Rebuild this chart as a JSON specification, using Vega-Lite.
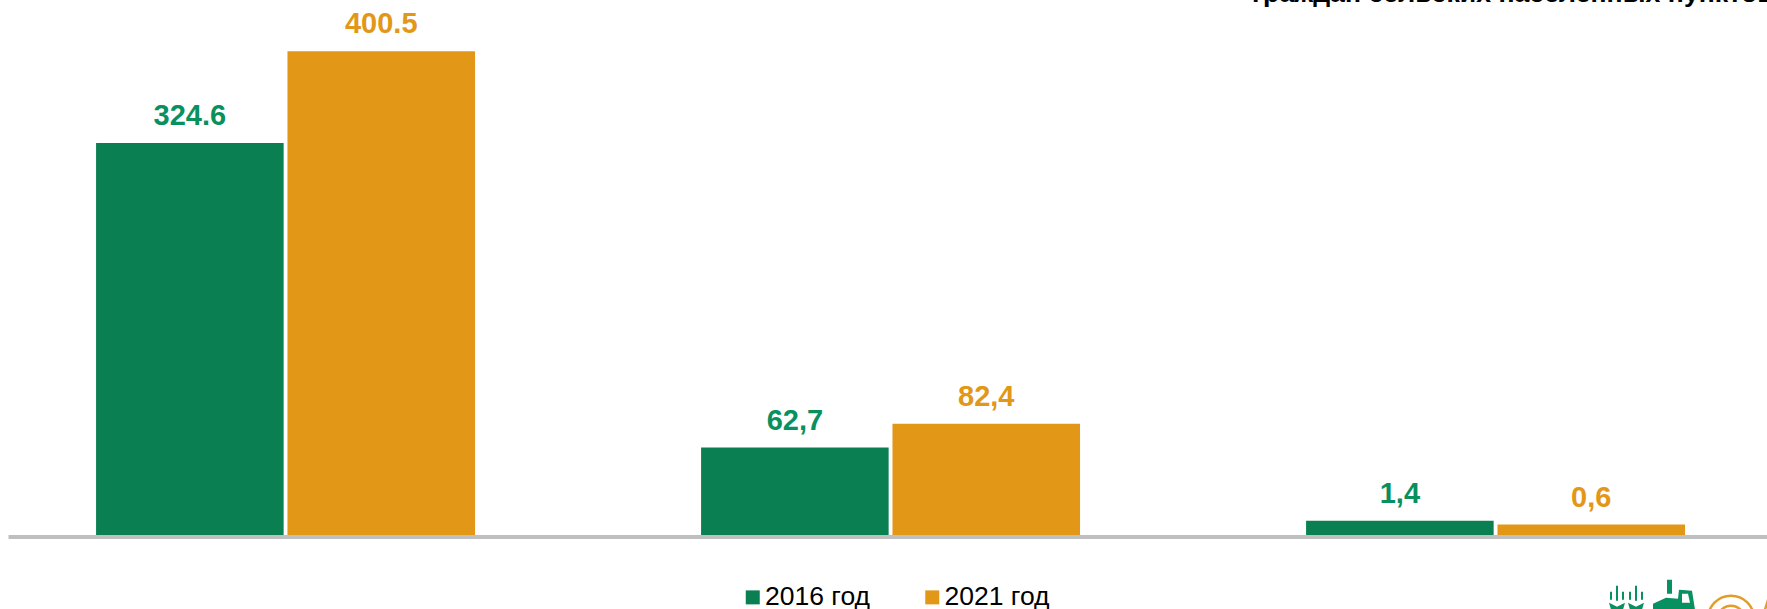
{"$schema":"https://vega.github.io/schema/vega-lite/v6.json","autosize":{"type":"none"},"padding":{"left":8,"top":1,"right":0,"bottom":74},"width":1759,"height":534,"background":"#ffffff","config":{"view":{"stroke":null}},"datasets":{"bars":[{"group":"A","year":"2016 год","value":324.6,"label":"324.6","drawn":324.6},{"group":"A","year":"2021 год","value":400.5,"label":"400.5","drawn":400.5},{"group":"B","year":"2016 год","value":62.7,"label":"62,7","drawn":72.4},{"group":"B","year":"2021 год","value":82.4,"label":"82,4","drawn":92.2},{"group":"C","year":"2016 год","value":1.4,"label":"1,4","drawn":11.9},{"group":"C","year":"2021 год","value":0.6,"label":"0,6","drawn":8.6}],"logo":[{"pos":1672,"level":-50.2}],"heading":[{"pos":1244,"level":441.3,"text":"граждан сельских населенных пунктов"}]},"resolve":{"scale":{"x":"independent"}},"layer":[{"data":{"name":"bars"},"encoding":{"x":{"field":"group","type":"nominal","scale":{"paddingInner":0.3736,"paddingOuter":0.1405,"align":0.518},"axis":{"title":null,"labels":false,"ticks":false,"grid":false,"domainColor":"#bfbfbf","domainWidth":4,"offset":1.5}},"xOffset":{"field":"year","type":"nominal","scale":{"paddingInner":0.02}},"y":{"field":"drawn","type":"quantitative","scale":{"domain":[0,442.1],"nice":false},"axis":null}},"layer":[{"mark":{"type":"bar","stroke":null},"encoding":{"color":{"field":"year","type":"nominal","scale":{"domain":["2016 год","2021 год"],"range":["#0A8052","#E29717"]},"legend":{"title":null,"orient":"none","legendX":731.5,"legendY":583,"direction":"horizontal","columns":2,"symbolType":"square","symbolSize":196,"symbolStrokeWidth":0,"labelFont":"Liberation Sans","labelFontSize":26.5,"labelColor":"#000000","labelOffset":-1,"columnPadding":48.5,"symbolOffset":0}}}},{"mark":{"type":"text","baseline":"alphabetic","align":"center","dy":-18,"font":"Liberation Sans","fontSize":29,"fontWeight":"bold"},"encoding":{"text":{"field":"label","type":"nominal"},"color":{"condition":{"test":"datum.year=='2016 год'","value":"#08905E"},"value":"#E29717"}}}]},{"data":{"name":"heading"},"mark":{"type":"text","align":"left","baseline":"alphabetic","font":"Liberation Sans","fontSize":26.7,"fontWeight":"bold","color":"#000000"},"encoding":{"text":{"field":"text","type":"nominal"},"x":{"field":"pos","type":"quantitative","scale":{"domain":[0,1759],"range":[0,1759]},"axis":null},"y":{"field":"level","type":"quantitative","scale":{"domain":[0,442.1],"nice":false},"axis":null}}},{"data":{"name":"logo"},"mark":{"type":"point","filled":true,"opacity":1,"color":"#079060","size":4,"shape":"M-64,-10H-62V5H-64ZM-70,-4H-68V4H-70ZM-58,-4H-56V4H-58ZM-71,7L-63,11L-55,7L-57,14H-69ZM-45,-10H-43V5H-45ZM-51,-4H-49V4H-51ZM-39,-4H-37V4H-39ZM-52,7L-44,11L-36,7L-38,14H-50ZM-27,8L-14,2L-2,3L-1,-6L12,-5L15,14H-27ZM2,-2L2,7L10,7L8,-2ZM-13,-16H-8V-2H-13Z"},"encoding":{"x":{"field":"pos","type":"quantitative","scale":{"domain":[0,1759],"range":[0,1759]},"axis":null},"y":{"field":"level","type":"quantitative","scale":{"domain":[0,442.1],"nice":false},"axis":null}}},{"data":{"name":"logo"},"mark":{"type":"point","filled":false,"opacity":1,"stroke":"#E29D28","strokeWidth":2.5,"size":4,"shape":"M28,23A23,23 0 0 1 74,23M38,23A13,13 0 0 1 64,23M85,14L89,1"},"encoding":{"x":{"field":"pos","type":"quantitative","scale":{"domain":[0,1759],"range":[0,1759]},"axis":null},"y":{"field":"level","type":"quantitative","scale":{"domain":[0,442.1],"nice":false},"axis":null}}}]}
